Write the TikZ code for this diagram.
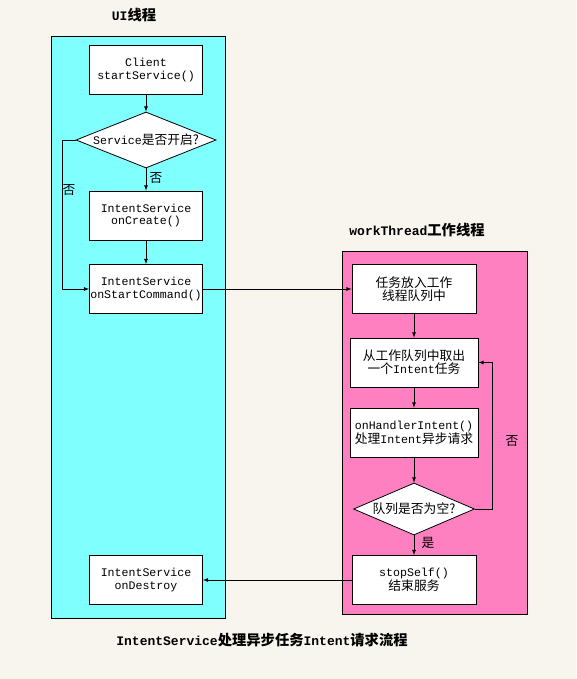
\documentclass[tikz,border=0pt]{standalone}
\usepackage{fontspec}
\setmonofont{Liberation Mono}
\newfontfamily\cjk[Scale=1.1]{Noto Sans CJK SC}
\newcommand{\zh}[1]{{\cjk #1}}
\usetikzlibrary{shapes.geometric}
\definecolor{bgcream}{HTML}{F8F5EE}
\definecolor{uicyan}{HTML}{80FFFF}
\definecolor{workpink}{HTML}{FF80C0}

\begin{document}
\begin{tikzpicture}[x=1pt,y=-1pt,line width=0.8pt,
	box/.style={draw,fill=white,minimum height=49pt,inner sep=0pt,align=center,font=\ttfamily\fontsize{11.6}{13}\selectfont},
	test/.style={draw,fill=white,diamond,inner sep=0pt,font=\ttfamily\fontsize{11.6}{13}\selectfont},
	lbl/.style={font=\ttfamily\fontsize{11.6}{13}\selectfont},
	ttl/.style={font=\ttfamily\bfseries\fontsize{13}{15}\selectfont},
	arr/.style={-latex}]
\useasboundingbox[fill=bgcream] (0,0) rectangle (576,679);
% Threads
\draw [fill=uicyan] (51,36) rectangle (225,618);
\draw [fill=workpink] (342,251) rectangle (527,614);
\node[ttl] (uititle) at (134,15) {UI\zh{线程}};
\node[ttl] (worktitle) at (417,230) {workThread\zh{工作线程}};
\node[ttl] (caption) at (262,640) {IntentService\zh{处理异步任务}Intent\zh{请求流程}};

%UI thread
\node[box,minimum width=113pt] (client) at (146,70) {Client\\startService()};
\node[test,minimum width=140pt,minimum height=56pt,aspect=2.5] (check) at (146,140) {Service\zh{是否开启?}};
\node[box,minimum width=113pt] (create) at (146,215.5) {IntentService\\onCreate()};
\node[box,minimum width=113pt] (start) at (146,289) {IntentService\\onStartCommand()};
\node[box,minimum width=113pt] (destroy) at (146,580) {IntentService\\onDestroy};
\coordinate (lbend) at (62,140);

\draw [arr] (client)--(check);
\draw [arr] (check)--(create)node[lbl,pos=0.45,right]{\zh{否}};
\draw [arr] (create)--(start);
\draw [arr] (check.west)--(lbend)|-(start.west);
\node[lbl] (lno) at (69,190) {\zh{否}};

%work thread
\node[box,minimum width=124pt] (queue) at (414,289) {\zh{任务放入工作}\\\zh{线程队列中}};
\node[box,minimum width=128pt] (take) at (414,362.5) {\zh{从工作队列中取出}\\\zh{一个}Intent\zh{任务}};
\node[box,minimum width=128pt] (handle) at (414,432.5) {onHandlerIntent()\\\zh{处理}Intent\zh{异步请求}};
\node[test,minimum width=121pt,minimum height=52pt,aspect=2.3] (empty) at (414,509) {\zh{队列是否为空?}};
\node[box,minimum width=124pt] (stop) at (414,580) {stopSelf()\\\zh{结束服务}};
\coordinate (rbend) at (492,509);

\draw [arr] (queue)--(take);
\draw [arr] (take)--(handle);
\draw [arr] (handle)--(empty);
\draw [arr] (empty)--(stop)node[lbl,pos=0.4,right,xshift=4pt]{\zh{是}};
\draw [arr] (empty.east)--(rbend)|-(take.east);
\node[lbl] (rno) at (512,441) {\zh{否}};

%between threads
\draw [arr] (start.east)--(queue.west);
\draw [arr] (stop.west)--(destroy.east);
\end{tikzpicture}
\end{document}
